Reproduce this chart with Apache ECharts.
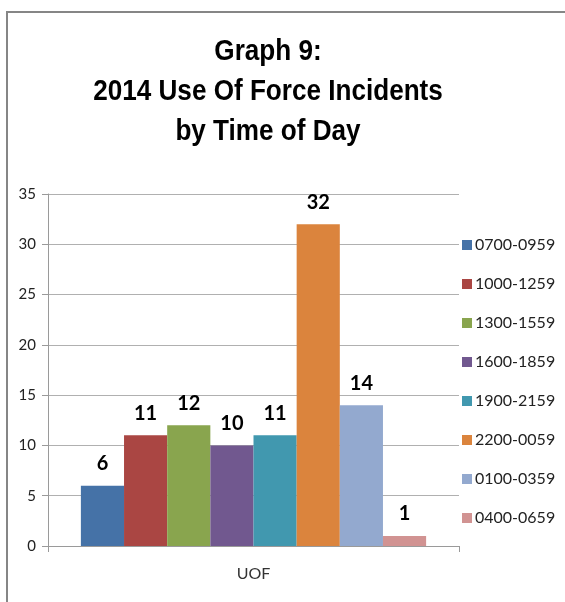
<!DOCTYPE html>
<html>
<head>
<meta charset="utf-8">
<script src="https://cdn.jsdelivr.net/npm/echarts@6/dist/echarts.min.js"></script>
<style>
  html, body { margin: 0; padding: 0; background: #fff; }
  #chart { width: 565px; height: 602px; }
</style>
</head>
<body>
<div id="chart"></div>
<script>
// Use-of-force incidents per time band
var categories = ['UOF'];
var timeBands = ['0700-0959', '1000-1259', '1300-1559', '1600-1859',
                 '1900-2159', '2200-0059', '0100-0359', '0400-0659'];
var incidents = [6, 11, 12, 10, 11, 32, 14, 1];
var bandColors = ['#4572A7', '#AA4643', '#89A54E', '#71588F',
                  '#4198AF', '#DB843D', '#93A9CF', '#D19392'];
var yTicks = [0, 5, 10, 15, 20, 25, 30, 35];
var titleLines = ['Graph 9:', '2014 Use Of Force Incidents', 'by Time of Day'];

var series = timeBands.map(function (name, i) {
  return {
    name: name,
    type: 'bar',
    data: [incidents[i]],
    barGap: '0%',
    barCategoryGap: '16%',
    itemStyle: { color: bandColors[i] },
    label: {
      show: true,
      position: 'top',
      distance: 12,
      color: '#000',
      fontFamily: 'Lato',
      fontWeight: 'bold',
      fontSize: 20
    }
  };
});

var chart = echarts.init(document.getElementById('chart'), null, { renderer: 'canvas' });
chart.setOption({
  animation: false,
  backgroundColor: '#fff',
  graphic: [{
    type: 'rect',
    shape: { x: 7, y: 12, width: 620, height: 620 },
    style: { fill: null, stroke: '#868686', lineWidth: 2 },
    silent: true
  }, {
    // condensed bold heading, three centred lines
    type: 'text',
    x: 268,
    y: 32,
    scaleX: 0.9,
    silent: true,
    style: {
      text: titleLines.join('\n'),
      align: 'center',
      verticalAlign: 'top',
      fontFamily: '"Liberation Sans", Arial',
      fontWeight: 'bold',
      fontSize: 29,
      lineHeight: 40,
      fill: '#000'
    }
  }],
  legend: {
    orient: 'vertical',
    left: 457,
    top: 231,
    itemWidth: 10,
    itemHeight: 10,
    itemGap: 21,
    icon: 'rect',
    data: timeBands,
    textStyle: {
      fontFamily: 'Lato',
      fontSize: 16,
      lineHeight: 18,
      color: '#222',
      padding: [0, 0, 0, -2]
    }
  },
  grid: { left: 48, right: 106, top: 194, bottom: 56 },
  xAxis: {
    type: 'category',
    data: categories,
    axisLine: { lineStyle: { color: '#9a9a9a' } },
    axisTick: { show: true, length: 6, lineStyle: { color: '#9a9a9a' } },
    axisLabel: {
      margin: 20,
      fontFamily: 'Lato',
      fontSize: 16,
      color: '#333'
    }
  },
  yAxis: {
    type: 'value',
    min: yTicks[0],
    max: yTicks[yTicks.length - 1],
    interval: 5,
    axisLine: { show: true, lineStyle: { color: '#9a9a9a' } },
    axisTick: { show: true, length: 6, lineStyle: { color: '#9a9a9a' } },
    axisLabel: {
      margin: 12,
      fontFamily: 'Lato',
      fontSize: 15,
      color: '#222'
    },
    splitLine: { lineStyle: { color: '#b0b0b0' } }
  },
  series: series
});
</script>
</body>
</html>
